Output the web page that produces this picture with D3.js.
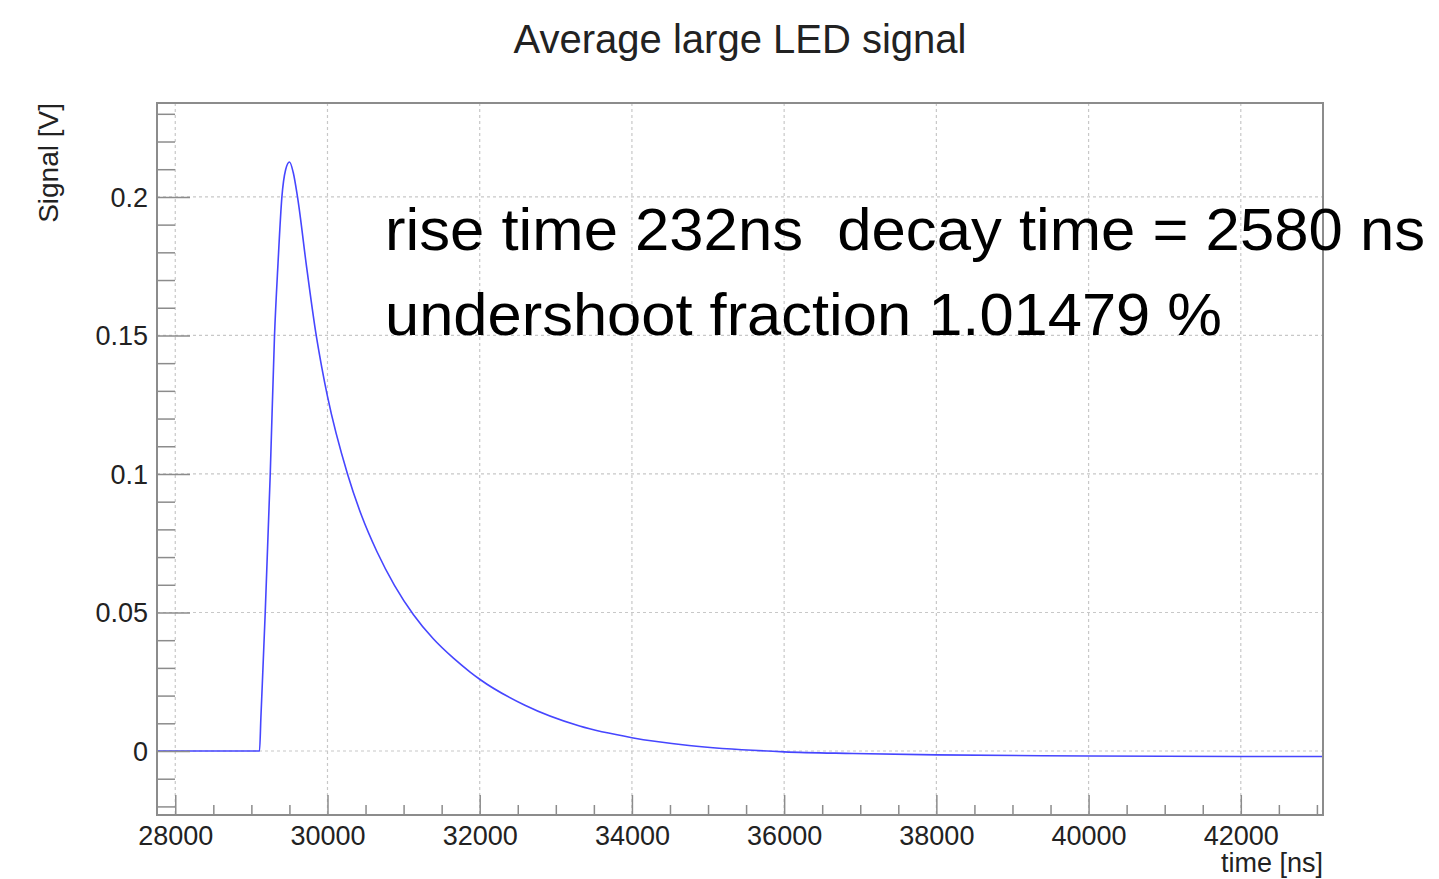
<!DOCTYPE html>
<html>
<head>
<meta charset="utf-8">
<script src="https://cdn.jsdelivr.net/npm/d3@7"></script>
<style>
  html, body { margin: 0; padding: 0; background: #fff; }
  svg { display: block; font-family: "Liberation Sans", Arial, Helvetica, sans-serif; }
  .ann { white-space: pre; }
</style>
</head>
<body>
<svg id="chart" width="1439" height="879"></svg>
<script>
// ---- data ----
const chartTitle = "Average large LED signal";
const xTitle = "time [ns]";
const yTitle = "Signal [V]";
const annotationLines = ["rise time 232ns  decay time = 2580 ns", "undershoot fraction 1.01479 %"];

const timeNs = [27760, 29107, 29125, 29182, 29248, 29304, 29350, 29401, 29450, 29501, 29550, 29606, 29729, 29852, 29925, 30000, 30263, 30450, 30649, 30880, 31130, 31390, 31655, 31874, 32000, 32594, 33312, 34000, 34750, 36000, 36904, 38000, 40000, 42000, 43080];
const signalV = [0, 0, 0.012, 0.05, 0.1, 0.15, 0.176, 0.2, 0.2098, 0.2126, 0.2088, 0.2, 0.174, 0.15, 0.1385, 0.128, 0.1, 0.0848, 0.072, 0.0598, 0.0492, 0.0405, 0.0335, 0.0285, 0.0259, 0.0165, 0.009, 0.0048, 0.002, -0.0003, -0.0009, -0.0014, -0.0018, -0.002, -0.002];

const xDomain = [27760, 43080];
const yDomain = [-0.0231, 0.2339];
const xMajorTicks = [28000, 30000, 32000, 34000, 36000, 38000, 40000, 42000];
const xTickLabels = ["28000", "30000", "32000", "34000", "36000", "38000", "40000", "42000"];
const yMajorTicks = [0, 0.05, 0.1, 0.15, 0.2];
const yTickLabels = ["0", "0.05", "0.1", "0.15", "0.2"];
const xMinorStep = 500;
const yMinorStep = 0.01;

// ---- layout ----
const frame = { left: 157, top: 103, right: 1323, bottom: 815 };
const svg = d3.select("#chart");

const x = d3.scaleLinear().domain(xDomain).range([frame.left, frame.right]);
const y = d3.scaleLinear().domain(yDomain).range([frame.bottom, frame.top]);

const frameColor = "#8c8c8c";
const gridColor = "#c8c8c8";

// grid
const grid = svg.append("g");
grid.selectAll("line.gx").data(xMajorTicks).join("line")
  .attr("x1", d => x(d)).attr("x2", d => x(d))
  .attr("y1", frame.top).attr("y2", frame.bottom)
  .attr("stroke", gridColor).attr("stroke-width", 1.2).attr("stroke-dasharray", "3,3");
grid.selectAll("line.gy").data(yMajorTicks).join("line")
  .attr("x1", frame.left).attr("x2", frame.right)
  .attr("y1", d => y(d)).attr("y2", d => y(d))
  .attr("stroke", gridColor).attr("stroke-width", 1.2).attr("stroke-dasharray", "3,3");

// curve
const pts = timeNs.map((t, i) => [t, signalV[i]]);
const line = d3.line().x(d => x(d[0])).y(d => y(d[1])).curve(d3.curveMonotoneX);
svg.append("path").datum(pts)
  .attr("d", line)
  .attr("fill", "none")
  .attr("stroke", "#4646ff")
  .attr("stroke-width", 1.6);

// x axis (bottom), ROOT-like ticks pointing inward
const xMinor = d3.range(Math.ceil(xDomain[0] / xMinorStep) * xMinorStep, xDomain[1], xMinorStep)
  .filter(v => !xMajorTicks.includes(v));
const xAxisMajor = d3.axisBottom(x).tickValues(xMajorTicks).tickSize(-20).tickFormat((d, i) => xTickLabels[i]).tickPadding(10);
const gx = svg.append("g").attr("transform", `translate(0,${frame.bottom})`).call(xAxisMajor);
gx.select(".domain").remove();
gx.selectAll(".tick line").attr("stroke", frameColor).attr("stroke-width", 1.5);
gx.selectAll(".tick text").attr("font-size", 27).attr("fill", "#222")
  .attr("font-family", "Liberation Sans, Arial, sans-serif").attr("dy", "0").attr("y", 30);
const gxm = svg.append("g").attr("transform", `translate(0,${frame.bottom})`)
  .call(d3.axisBottom(x).tickValues(xMinor).tickSize(-10).tickFormat(""));
gxm.select(".domain").remove();
gxm.selectAll(".tick line").attr("stroke", frameColor).attr("stroke-width", 1.5);

// y axis (left)
const yMinor = d3.range(-0.02, yDomain[1], yMinorStep).map(v => Math.round(v * 100) / 100)
  .filter(v => !yMajorTicks.some(m => Math.abs(m - v) < 1e-9));
const gy = svg.append("g").attr("transform", `translate(${frame.left},0)`)
  .call(d3.axisLeft(y).tickValues(yMajorTicks).tickSize(-33).tickFormat((d, i) => yTickLabels[i]).tickPadding(9));
gy.select(".domain").remove();
gy.selectAll(".tick line").attr("stroke", frameColor).attr("stroke-width", 1.5);
gy.selectAll(".tick text").attr("font-size", 27).attr("fill", "#222")
  .attr("font-family", "Liberation Sans, Arial, sans-serif").attr("x", -9).attr("dy", "0.35em");
const gym = svg.append("g").attr("transform", `translate(${frame.left},0)`)
  .call(d3.axisLeft(y).tickValues(yMinor).tickSize(-18).tickFormat(""));
gym.select(".domain").remove();
gym.selectAll(".tick line").attr("stroke", frameColor).attr("stroke-width", 1.5);

// frame
svg.append("rect")
  .attr("x", frame.left).attr("y", frame.top)
  .attr("width", frame.right - frame.left).attr("height", frame.bottom - frame.top)
  .attr("fill", "none").attr("stroke", frameColor).attr("stroke-width", 2);

// titles
svg.append("text").text(chartTitle)
  .attr("x", 740).attr("y", 53).attr("text-anchor", "middle")
  .attr("font-size", 40).attr("fill", "#222");
svg.append("text").text(xTitle)
  .attr("x", frame.right).attr("y", 872).attr("text-anchor", "end")
  .attr("font-size", 27).attr("fill", "#222");
svg.append("text").text(yTitle)
  .attr("transform", `translate(58,${frame.top}) rotate(-90)`)
  .attr("text-anchor", "end")
  .attr("font-size", 28).attr("fill", "#222");

// annotation
const annY = [250, 335];
const annW = [1040, 837];
annotationLines.forEach((s, i) => {
  svg.append("text").attr("class", "ann").attr("xml:space", "preserve").text(s)
    .attr("x", 385).attr("y", annY[i])
    .attr("font-size", 60).attr("fill", "#000")
    .attr("textLength", annW[i]).attr("lengthAdjust", "spacingAndGlyphs");
});
</script>
</body>
</html>
